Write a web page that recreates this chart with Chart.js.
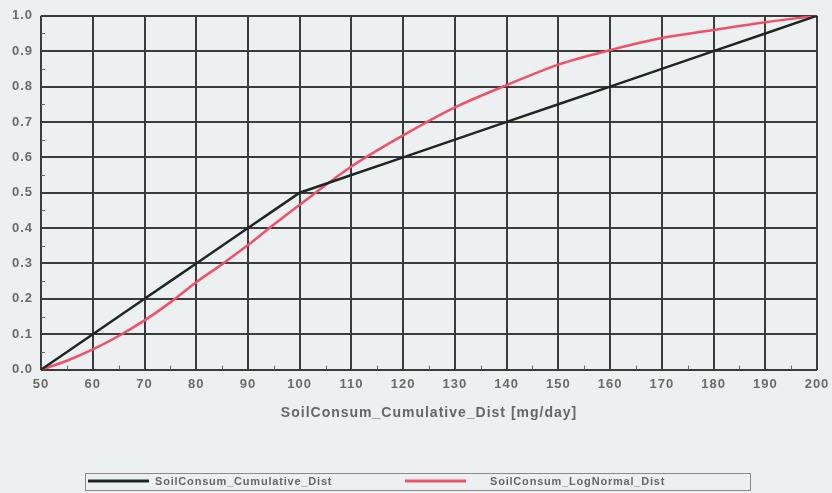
<!DOCTYPE html>
<html>
<head>
<meta charset="utf-8">
<script src="https://cdn.jsdelivr.net/npm/chart.js@4"></script>
<style>
  html, body { margin: 0; padding: 0; background: #edf0f0; }
  #wrap { width: 832px; height: 493px; }
</style>
</head>
<body>
<div id="wrap"><canvas id="myChart" width="832" height="493"></canvas></div>
<script>
// x values (mg/day)
var doses = [50, 55, 60, 65, 70, 75, 80, 85, 90, 95, 100, 110, 120, 130, 140, 150, 160, 170, 180, 190, 200];
var cumulative = [0, 0.05, 0.1, 0.15, 0.2, 0.25, 0.3, 0.35, 0.4, 0.45, 0.5, 0.55, 0.6, 0.65, 0.7, 0.75, 0.8, 0.85, 0.9, 0.95, 1.0];
var logNormal = [0, 0.025, 0.057, 0.095, 0.139, 0.19, 0.247, 0.298, 0.352, 0.41, 0.466, 0.574, 0.662, 0.741, 0.804, 0.862, 0.903, 0.937, 0.96, 0.982, 1.0];
var xTicks = [50, 60, 70, 80, 90, 100, 110, 120, 130, 140, 150, 160, 170, 180, 190, 200];
var seriesNames = ['SoilConsum_Cumulative_Dist', 'SoilConsum_LogNormal_Dist'];

function pts(ys) {
  return doses.map((d, i) => ({x: d, y: ys[i]}));
}

// the scan's lettering is spaced out a bit
function spacing(chart) { chart.ctx.letterSpacing = '1px'; }

const extras = {
  id: 'extras',
  beforeUpdate: spacing,
  beforeLayout: spacing,
  beforeDraw: spacing,
  afterDatasetsDraw(chart) {
    // small minor ticks at the half steps
    const ctx = chart.ctx;
    const xs = chart.scales.x, ys = chart.scales.y;
    const a = chart.chartArea;
    ctx.save();
    ctx.strokeStyle = '#666';
    ctx.lineWidth = 1;
    for (let v = 55; v < 200; v += 10) {
      let px = Math.round(xs.getPixelForValue(v)) + 0.5;
      ctx.beginPath(); ctx.moveTo(px, a.bottom); ctx.lineTo(px, a.bottom - 4); ctx.stroke();
    }
    for (let v = 0.05; v < 1; v += 0.1) {
      let py = Math.round(ys.getPixelForValue(v)) + 0.5;
      ctx.beginPath(); ctx.moveTo(a.left, py); ctx.lineTo(a.left + 4, py); ctx.stroke();
    }
    ctx.restore();
  },
  afterDraw(chart) {
    // boxed legend along the bottom
    const ctx = chart.ctx;
    const ds = chart.data.datasets;
    const lineX = [88, 405], textX = [155, 490];
    const yMid = 481;
    ctx.save();
    ctx.letterSpacing = '0.8px';
    ctx.strokeStyle = '#8a8a8a';
    ctx.lineWidth = 1;
    ctx.strokeRect(85.5, 473.5, 665, 17);
    ds.forEach((d, i) => {
      ctx.strokeStyle = d.borderColor;
      ctx.lineWidth = 3;
      ctx.beginPath(); ctx.moveTo(lineX[i], yMid); ctx.lineTo(lineX[i] + 61, yMid); ctx.stroke();
      ctx.fillStyle = '#666';
      ctx.font = 'bold 11px "Liberation Sans"';
      ctx.textBaseline = 'middle';
      ctx.fillText(d.label, textX[i], yMid + 1);
    });
    ctx.restore();
  }
};

new Chart('myChart', {
  type: 'line',
  data: {
    datasets: [
      {
        label: seriesNames[0],
        data: pts(cumulative),
        borderColor: '#1e2823',
        backgroundColor: '#1e2823',
        borderWidth: 2.5,
        pointRadius: 0,
        tension: 0
      },
      {
        label: seriesNames[1],
        data: pts(logNormal),
        borderColor: '#f2506a',
        backgroundColor: '#f2506a',
        borderWidth: 2.5,
        pointRadius: 0,
        cubicInterpolationMode: 'monotone'
      }
    ]
  },
  plugins: [extras],
  options: {
    responsive: false,
    animation: false,
    layout: { padding: { left: 4, right: 15, top: 14, bottom: 61 } },
    plugins: {
      tooltip: { enabled: false },
      legend: { display: false }
    },
    scales: {
      x: {
        type: 'linear',
        min: 50,
        max: 200,
        afterBuildTicks(axis) { axis.ticks = xTicks.map(v => ({value: v})); },
        afterFit(axis) { axis.paddingRight = 0; },
        grid: { color: '#383c3a', lineWidth: 2, drawTicks: false },
        border: { display: false },
        ticks: { padding: 7, color: '#6a6a6a', font: { family: 'Liberation Sans', size: 13, weight: 'bold' } },
        title: {
          display: true,
          text: 'SoilConsum_Cumulative_Dist [mg/day]',
          color: '#666',
          font: { family: 'Liberation Sans', size: 14, weight: 'bold' },
          padding: { top: 6, bottom: 10 }
        }
      },
      y: {
        min: 0,
        max: 1,
        ticks: {
          stepSize: 0.1,
          padding: 8,
          color: '#6a6a6a',
          font: { family: 'Liberation Sans', size: 13, weight: 'bold' },
          callback: v => v.toFixed(1)
        },
        grid: { color: '#383c3a', lineWidth: 2, drawTicks: false },
        border: { display: false }
      }
    }
  }
});
</script>
</body>
</html>
